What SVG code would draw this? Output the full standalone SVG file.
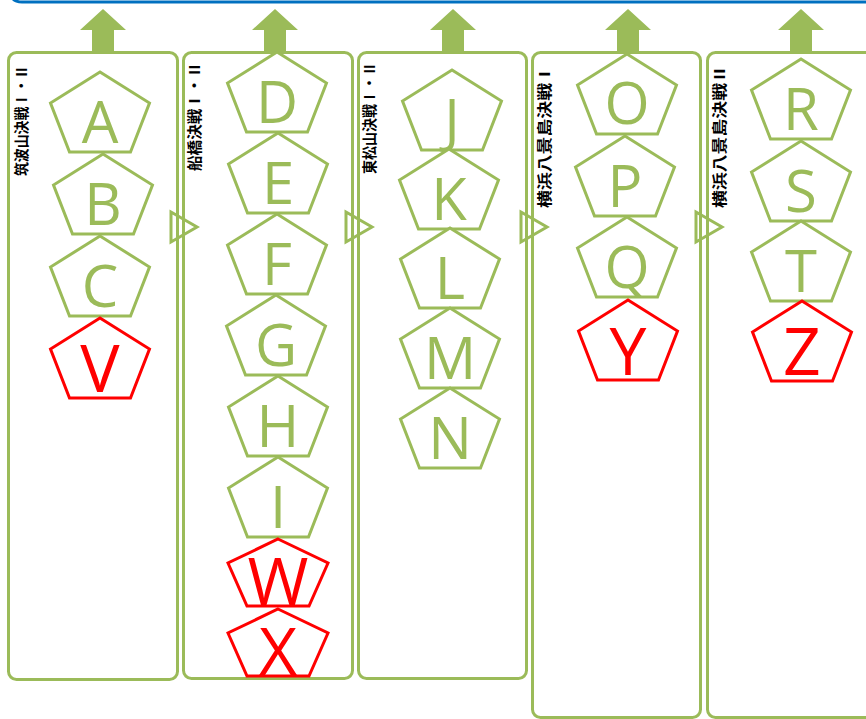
<svg xmlns="http://www.w3.org/2000/svg" xmlns:xlink="http://www.w3.org/1999/xlink" width="866" height="719" viewBox="0 0 866 719">
<style>
.box{fill:#fff;stroke:#9BBB59;stroke-width:3}
.pg{fill:#fff;stroke:#9BBB59;stroke-width:3;stroke-linejoin:miter}
.pr{fill:#fff;stroke:#FF0000;stroke-width:3;stroke-linejoin:miter}
.tg{font-family:"Open Sans","Liberation Sans",sans-serif;font-size:58px;fill:#9BBB59;text-anchor:middle}
.tr{font-family:"Open Sans","Liberation Sans",sans-serif;font-size:66px;fill:#FF0000;text-anchor:middle}
.lbl{font-family:"Noto Sans CJK JP","Noto Sans",sans-serif;font-size:14.5px;font-weight:700;fill:#000}
.up{fill:#9BBB59}
.tri{fill:none;stroke:#9BBB59;stroke-width:3;stroke-linejoin:miter}
</style>
<defs>
<path id="pent" d="M0,0 L49.5,31 L30.5,80 L-30.5,80 L-49.5,31 Z"/>
<path id="pents" d="M0,0 L50,24 L31,67 L-31,67 L-50,24 Z"/>
</defs>
<rect width="866" height="719" fill="#fff"/>
<path d="M11,-6 Q12,2 22,2 H870" fill="none" stroke="#0070C0" stroke-width="3"/>

<g id="col1">
<rect class="box" x="8.5" y="52.5" width="169" height="627" rx="8"/>
<text class="lbl" transform="translate(27,176) rotate(-90)" textLength="111" lengthAdjust="spacingAndGlyphs">筑波山決戦Ⅰ・Ⅱ</text>
</g>
<g id="col2">
<rect class="box" x="183.5" y="52.5" width="169" height="626" rx="8"/>
<text class="lbl" transform="translate(200,171) rotate(-90)" textLength="109" lengthAdjust="spacingAndGlyphs">船橋決戦Ⅰ・Ⅱ</text>
</g>
<g id="col3">
<rect class="box" x="358.5" y="52.5" width="168" height="626" rx="8"/>
<text class="lbl" transform="translate(375,174) rotate(-90)" textLength="112" lengthAdjust="spacingAndGlyphs">東松山決戦Ⅰ・Ⅱ</text>
</g>
<g id="col4">
<rect class="box" x="532.5" y="52.5" width="168" height="665" rx="8"/>
<text class="lbl" transform="translate(550,208) rotate(-90)" textLength="143" lengthAdjust="spacingAndGlyphs">横浜八景島決戦Ⅰ</text>
</g>
<g id="col5">
<rect class="box" x="707.5" y="52.5" width="172" height="665" rx="8"/>
<text class="lbl" transform="translate(725,208) rotate(-90)" textLength="143" lengthAdjust="spacingAndGlyphs">横浜八景島決戦Ⅱ</text>
</g>

<g id="connectors">
<polygon class="up" points="103,9 126,30 114,30 114,52 92,52 92,30 80,30"/>
<polygon class="up" points="275,9 298,30 286,30 286,52 264,52 264,30 252,30"/>
<polygon class="up" points="453,9 476,30 464,30 464,52 442,52 442,30 430,30"/>
<polygon class="up" points="628,9 651,30 639,30 639,52 617,52 617,30 605,30"/>
<polygon class="up" points="801,9 824,30 812,30 812,52 790,52 790,30 778,30"/>
<polygon class="tri" points="171,212 197,227 171,242"/>
<polygon class="tri" points="346,212 372,227 346,242"/>
<polygon class="tri" points="521,212 547,227 521,242"/>
<polygon class="tri" points="696,212 722,227 696,242"/>
</g>

<g id="A"><use href="#pent" class="pg" x="100" y="72"/><text class="tg" x="100" y="143">A</text></g>
<g id="B"><use href="#pent" class="pg" x="103" y="154"/><text class="tg" x="103" y="225">B</text></g>
<g id="C"><use href="#pent" class="pg" x="100" y="236"/><text class="tg" x="100" y="307">C</text></g>
<g id="V"><use href="#pent" class="pr" x="100" y="318"/><text class="tr" x="100" y="392">V</text></g>

<g id="D"><use href="#pent" class="pg" x="277" y="52"/><text class="tg" x="277" y="123">D</text></g>
<g id="E"><use href="#pent" class="pg" x="278" y="133"/><text class="tg" x="278" y="204">E</text></g>
<g id="F"><use href="#pent" class="pg" x="277" y="214"/><text class="tg" x="277" y="285">F</text></g>
<g id="G"><use href="#pent" class="pg" x="276" y="295"/><text class="tg" x="276" y="366">G</text></g>
<g id="H"><use href="#pent" class="pg" x="278" y="376"/><text class="tg" x="278" y="447">H</text></g>
<g id="I"><use href="#pent" class="pg" x="278" y="457"/><text class="tg" x="278" y="528">I</text></g>
<g id="W"><use href="#pents" class="pr" x="278" y="539"/><text class="tr" x="278" y="605">W</text></g>
<g id="X"><use href="#pents" class="pr" x="278" y="609"/><text class="tr" x="278" y="675">X</text></g>

<g id="J"><use href="#pent" class="pg" x="452" y="70"/><text class="tg" x="452" y="141">J</text></g>
<g id="K"><use href="#pent" class="pg" x="449" y="149"/><text class="tg" x="449" y="220">K</text></g>
<g id="L"><use href="#pent" class="pg" x="450" y="228"/><text class="tg" x="450" y="299">L</text></g>
<g id="M"><use href="#pent" class="pg" x="450" y="308"/><text class="tg" x="450" y="379">M</text></g>
<g id="N"><use href="#pent" class="pg" x="450" y="388"/><text class="tg" x="450" y="459">N</text></g>

<g id="O"><use href="#pent" class="pg" x="627" y="54"/><text class="tg" x="627" y="124">O</text></g>
<g id="P"><use href="#pent" class="pg" x="625" y="136"/><text class="tg" x="625" y="207">P</text></g>
<g id="Q"><use href="#pent" class="pg" x="627" y="217"/><text class="tg" x="627" y="288">Q</text></g>
<g id="Y"><use href="#pent" class="pr" x="628" y="300"/><text class="tr" x="628" y="375">Y</text></g>

<g id="R"><use href="#pent" class="pg" x="801" y="59"/><text class="tg" x="801" y="130">R</text></g>
<g id="S"><use href="#pent" class="pg" x="801" y="141"/><text class="tg" x="801" y="212">S</text></g>
<g id="T"><use href="#pent" class="pg" x="801" y="221"/><text class="tg" x="801" y="292">T</text></g>
<g id="Z"><use href="#pent" class="pr" x="802" y="301"/><text class="tr" x="802" y="375">Z</text></g>
</svg>
